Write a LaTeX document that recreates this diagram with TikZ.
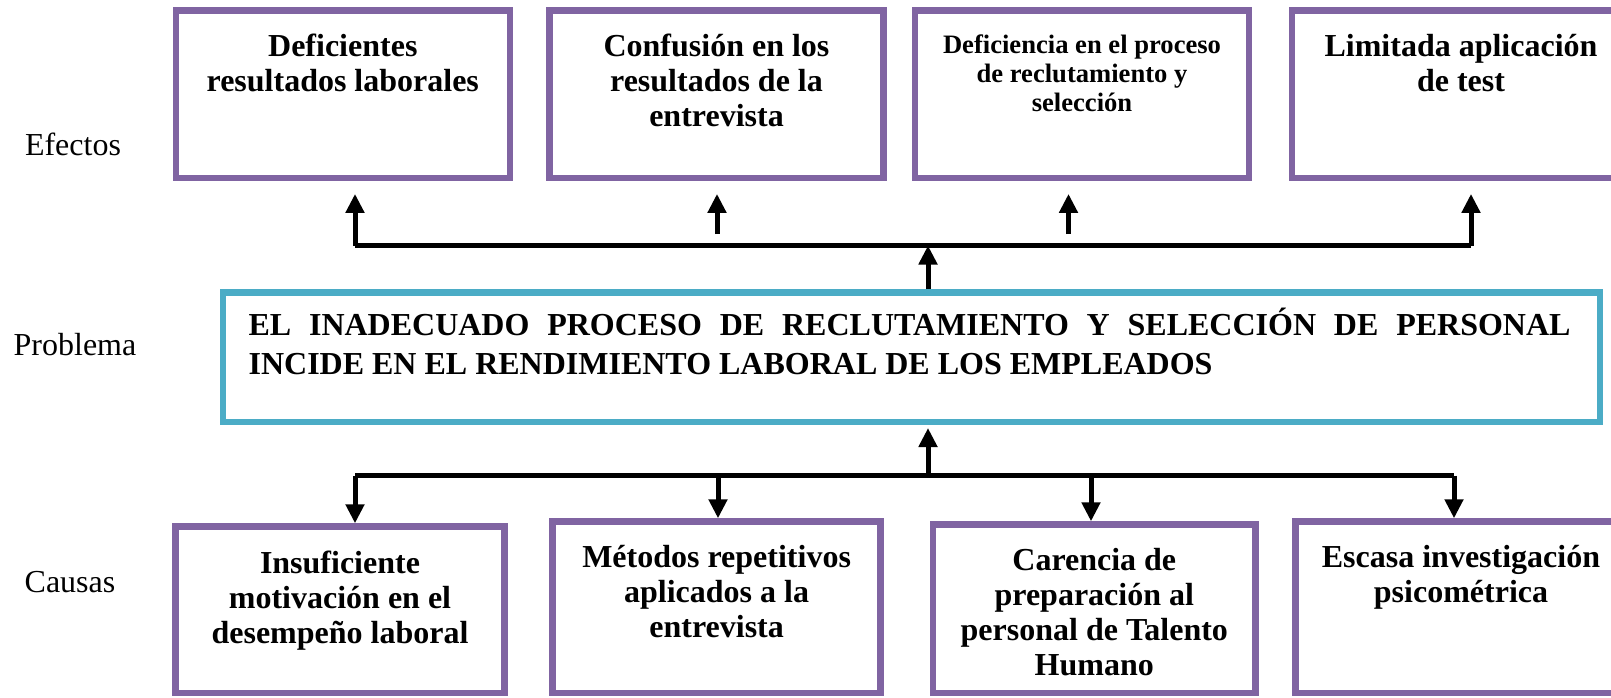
\documentclass[tikz,border=0pt]{standalone}
\usepackage{fontspec}
\setmainfont{Liberation Serif}
\definecolor{arbolPurple}{HTML}{8064A2}
\definecolor{arbolCyan}{HTML}{4BACC6}
\usetikzlibrary{calc,positioning,arrows.meta}
\hyphenpenalty=10000
\newcommand{\celltext}[3]{\parbox[c][#2][t]{#1}{\centering\vspace*{12pt}#3}}

\begin{document}
\begin{tikzpicture}[x=0.5pt, y=-0.5pt,
  cell/.style={draw=arbolPurple, line width=3.2pt, inner sep=0pt,
    font=\fontsize{16}{17.5}\selectfont\bfseries},
  problem/.style={draw=arbolCyan, line width=3.2pt, inner sep=0pt,
    font=\fontsize{16}{19.5}\selectfont\bfseries},
  sidelabel/.style={font=\fontsize{16}{17.5}\selectfont},
  arr/.style={-{Triangle[length=9.5pt, width=9pt]}, line width=2.5pt},
  bar/.style={line width=2.8pt}
]
  \useasboundingbox (0,0) rectangle (1611,697);
  \clip (0,0) rectangle (1611,697);

  \node[sidelabel] (efectos) at (73,144) {Efectos};
  \node[sidelabel] (problema) at (75,345) {Problema};
  \node[sidelabel] (causas) at (70,582) {Causas};

  \node[cell] (eff1) at (342.8,94) {\celltext{167pt}{83.7pt}{Deficientes\\resultados laborales}};
  \node[cell] (eff2) at (716.5,94) {\celltext{167pt}{83.7pt}{Confusión en los\\resultados de la\\entrevista}};
  \node[cell, font=\fontsize{13.3}{14.5}\selectfont\bfseries] (eff3) at (1082,94)
    {\celltext{167pt}{83.7pt}{Deficiencia en el proceso\\de reclutamiento y\\selección}};
  \node[cell] (eff4) at (1461,94) {\celltext{169pt}{83.7pt}{Limitada aplicación\\de test}};

  \node[problem] (prob) at (911.5,357.25) {\parbox[c][64.75pt][t]{688.5pt}{\vspace*{7.7pt}\hspace*{12.8pt}\parbox[t]{661pt}{EL INADECUADO PROCESO DE RECLUTAMIENTO Y SELECCIÓN DE PERSONAL\linebreak INCIDE EN EL RENDIMIENTO LABORAL DE LOS EMPLEADOS}}};

  \node[cell] (cau1) at (340,609.75) {\celltext{164.5pt}{83.25pt}{Insuficiente\\motivación en el\\desempeño laboral}};
  \node[cell] (cau2) at (716.6,607.25) {\celltext{164pt}{85.75pt}{Métodos repetitivos\\aplicados a la\\entrevista}};
  \node[cell] (cau3) at (1094.3,608.75) {\celltext{161.3pt}{84.25pt}{Carencia de\\preparación al\\personal de Talento\\Humano}};
  \node[cell] (cau4) at (1461,607.25) {\celltext{165.5pt}{85.75pt}{Escasa investigación\\psicométrica}};

  \coordinate (topL) at (355,245.5);
  \coordinate (topM) at (928,245.5);
  \coordinate (topR) at (1471,245.5);
  \coordinate (eff2base) at (717,234);
  \coordinate (eff3base) at (1068.5,234);
  \coordinate (botL) at (355,475.5);
  \coordinate (botM) at (928,475.5);
  \coordinate (botR) at (1454,475.5);
  \coordinate (cau2top) at (718,475.5);
  \coordinate (cau3top) at (1091,475.5);

  \draw[bar] (topL) -- (topR);
  \draw[arr] (prob.north -| topM) -- (topM);
  \draw[arr, shorten >=6.5pt] (topL) -- (topL |- eff1.south);
  \draw[arr, shorten >=6.5pt] (eff2base) -- (eff2base |- eff2.south);
  \draw[arr, shorten >=6.5pt] (eff3base) -- (eff3base |- eff3.south);
  \draw[arr, shorten >=6.5pt] (topR) -- (topR |- eff4.south);

  \draw[bar] (botL) -- (botR);
  \draw[arr, shorten >=1.4pt] (botM) -- (botM |- prob.south);
  \draw[arr] (botL) -- (botL |- cau1.north);
  \draw[arr] (cau2top) -- (cau2top |- cau2.north);
  \draw[arr] (cau3top) -- (cau3top |- cau3.north);
  \draw[arr] (botR) -- (botR |- cau4.north);
\end{tikzpicture}
\end{document}
